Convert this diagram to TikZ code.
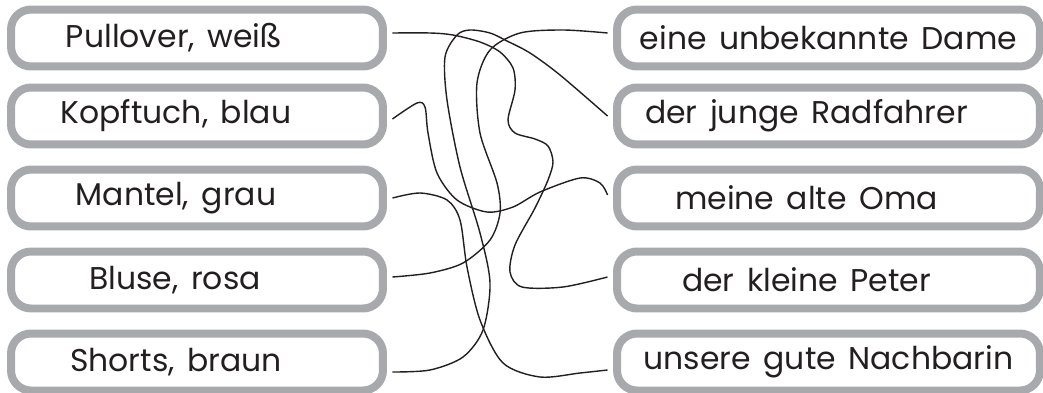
\documentclass[tikz,border=0pt]{standalone}
\usepackage{fontspec}
\setmainfont{Poppins}
\newfontfamily\labelfam{Poppins}[WordSpace=1.5]
\definecolor{boxgray}{HTML}{A7A9AC}
\definecolor{ink}{HTML}{231F20}
\tikzset{
    box/.style={draw=boxgray, line width=0.16cm, rounded corners=0.4cm,
        minimum height=1.14cm, outer sep=0.19cm},
    lbox/.style={box, minimum width=7.44cm},
    rbox/.style={box, minimum width=8.46cm},
    txt/.style={text=ink, font=\labelfam\fontsize{17.9}{21}\selectfont},
    wire/.style={draw=ink, line width=0.8pt}
}
\begin{document}
\begin{tikzpicture}[x=0.02cm, y=-0.02cm]
    \useasboundingbox (0,0) rectangle (1043,392);
    % left column
    \node (pull) [lbox, label={[txt,xshift=-0.46cm]center:Pullover, weiß}] at (197,38) {};
    \node (kopf) [lbox, label={[txt,xshift=-0.42cm]center:Kopftuch, blau}] at (197,116) {};
    \node (mant) [lbox, label={[txt,xshift=-0.42cm]center:Mantel, grau}] at (197,198) {};
    \node (blus) [lbox, label={[txt,xshift=-0.44cm]center:Bluse, rosa}] at (197,280) {};
    \node (short) [lbox, label={[txt,xshift=-0.42cm]center:Shorts, braun}] at (197,362) {};
    % right column
    \node (dame) [rbox, label={[txt]center:eine unbekannte Dame}] at (828.5,38) {};
    \node (rad) [rbox, label={[txt,xshift=-0.44cm]center:der junge Radfahrer}] at (828.5,116) {};
    \node (oma) [rbox, label={[txt,xshift=-0.44cm]center:meine alte Oma}] at (828.5,198) {};
    \node (peter) [rbox, label={[txt,xshift=-0.44cm]center:der kleine Peter}] at (828.5,280) {};
    \node (nach) [rbox, label={[txt]center:unsere gute Nachbarin}] at (828.5,362) {};
    % tangled lines
    \draw[wire] plot[smooth] coordinates {([yshift=0.1cm]pull.east) (430,33) (453,35) (480,42) (500,52)
        (513,68) (515,90) (508,120) (515,133) (535,139) (548,146) (553,162) (548,180) (535,208)
        (515,245) (510,272) (522,287) (563,287) ([yshift=0.06cm]peter.west)};
    \draw[wire] plot[smooth] coordinates {([yshift=-0.06cm]kopf.east) (417,103) (425,107) (428,133)
        (437,173) (457,200) (487,212) (513,207) (540,192) (580,178) (600,183) ([yshift=0.06cm]oma.west)};
    \draw[wire] plot[smooth] coordinates {(mant.east) (420,193) (447,200) (460,220) (467,267)
        (480,320) (503,363) (540,377) (580,373) ([yshift=-0.16cm]nach.west)};
    \draw[wire] plot[smooth] coordinates {([yshift=0.06cm]blus.east) (430,273) (463,263) (490,240)
        (500,213) (497,183) (480,133) (477,83) (490,50) (520,33) (563,30) ([yshift=0.1cm]dame.west)};
    \draw[wire] plot[smooth] coordinates {([yshift=-0.2cm]short.east) (430,370) (463,357) (483,330)
        (490,283) (480,233) (460,167) (447,100) (445,57) (457,35) (470,30) (490,33) (507,41)
        (530,53) (560,75) (rad.west)};
\end{tikzpicture}
\end{document}
